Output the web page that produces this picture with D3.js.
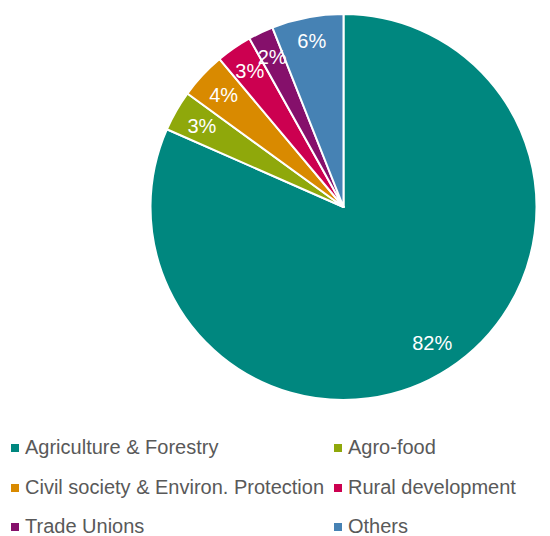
<!DOCTYPE html>
<html>
<head>
<meta charset="utf-8">
<script src="https://cdn.jsdelivr.net/npm/d3@7"></script>
<style>
  html, body { margin: 0; padding: 0; background: #fff; }
  svg { display: block; font-family: "Liberation Sans", Arial, sans-serif; }
</style>
</head>
<body>
<svg id="chart" width="550" height="536"></svg>
<script>
const categories = ["Agriculture & Forestry", "Agro-food", "Civil society & Environ. Protection", "Rural development", "Trade Unions", "Others"];
const values = [81.6, 3.4, 3.9, 3.0, 2.1, 6.0];
const colors = ["#00877f", "#8fa80b", "#d98a00", "#cc0050", "#85106b", "#4682b4"];

const svg = d3.select("#chart");
const cx = 343.5, cy = 207, R = 193;

const data = categories.map((c, i) => ({ name: c, value: values[i], color: colors[i] }));
const pie = d3.pie().value(d => d.value).sort(null);
const arcs = pie(data);
const arc = d3.arc().innerRadius(0).outerRadius(R);

const g = svg.append("g").attr("transform", `translate(${cx},${cy})`);
g.selectAll("path.slice").data(arcs).join("path")
  .attr("class", "slice")
  .attr("d", arc)
  .attr("fill", d => d.data.color)
  .attr("stroke", "#fff")
  .attr("stroke-width", 2)
  .attr("stroke-linejoin", "round");

// "inside end" style labels: box pushed out toward the rim
const labels = g.selectAll("text.lbl").data(arcs).join("text")
  .attr("class", "lbl")
  .attr("text-anchor", "middle")
  .attr("dominant-baseline", "central")
  .attr("fill", "#fff")
  .attr("font-size", 20)
  .text(d => Math.round(d.data.value) + "%");
labels.each(function(d) {
  const bb = this.getBBox();
  const hw = bb.width / 2, hh = 8;
  const a = (d.startAngle + d.endAngle) / 2;
  const sx = Math.sin(a), sy = -Math.cos(a);
  const dist = R - 13 - (Math.abs(sx) * hw + Math.abs(sy) * hh);
  d3.select(this).attr("transform", `translate(${sx * dist},${sy * dist})`);
});

// Legend
const colX = [11, 334];
const rowY = [448, 488, 527];
const lg = svg.append("g");
data.forEach((d, i) => {
  const x = colX[i % 2], y = rowY[Math.floor(i / 2)];
  lg.append("rect").attr("x", x).attr("y", y - 4).attr("width", 8).attr("height", 8).attr("fill", d.color);
  lg.append("text").attr("x", x + 14).attr("y", y + 6)
    .attr("font-size", 20)
    .attr("fill", "#595959")
    .text(d.name);
});
</script>
</body>
</html>
